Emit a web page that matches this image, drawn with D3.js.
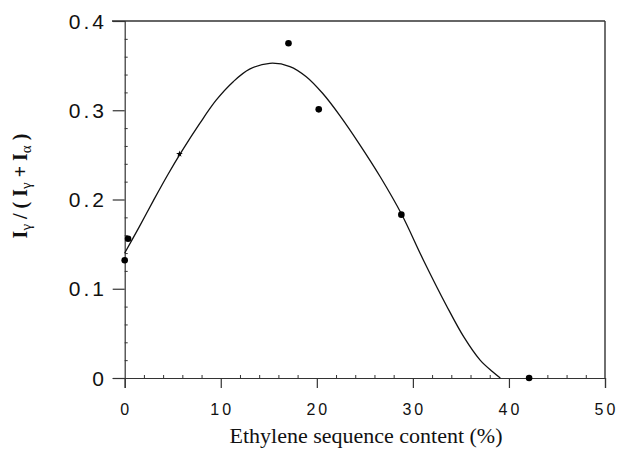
<!DOCTYPE html>
<html><head><meta charset="utf-8">
<script src="https://cdn.jsdelivr.net/npm/d3@7"></script>
<style>body{margin:0;background:#fff}svg{display:block}</style>
</head><body>
<svg id="c" width="621" height="449"></svg>
<script>
// Measured points
const pointX = [0, 0.35, 17.05, 20.2, 28.8, 42.1];
const pointY = [0.132, 0.156, 0.375, 0.301, 0.183, 0.0];
// Odd marker (small star)
const starX = [5.7];
const starY = [0.251];
// Fitted curve
const curveX = [0, 1.5, 3.0, 4.5, 6.0, 7.8, 9.5, 11.3, 13.0, 15.1, 17.2, 18.9, 20.6, 22.4, 24.5, 26.6, 28.8, 31.1, 33.5, 35.3, 37.0, 38.3, 39.1];
const curveY = [0.140, 0.169, 0.199, 0.228, 0.255, 0.285, 0.311, 0.332, 0.346, 0.3526, 0.349, 0.3376, 0.319, 0.294, 0.261, 0.2255, 0.184, 0.132, 0.081, 0.046, 0.020, 0.007, 0.0];
const xTicks = [0, 10, 20, 30, 40, 50];
const yTicks = [0, 0.1, 0.2, 0.3, 0.4];
const yTickLabels = ["0", "0.1", "0.2", "0.3", "0.4"];

const svg = d3.select("#c");
const x = d3.scaleLinear().domain([0, 50]).range([124.7, 605]);
const y = d3.scaleLinear().domain([0, 0.4]).range([378, 21]);
const axisColor = "#333";

// frame top & right
svg.append("line").attr("x1", 112).attr("x2", x(50)).attr("y1", y(0.4)).attr("y2", y(0.4))
  .attr("stroke", axisColor).attr("stroke-width", 1.4);
svg.append("line").attr("x1", x(50)).attr("x2", x(50)).attr("y1", y(0.4)).attr("y2", y(0))
  .attr("stroke", axisColor).attr("stroke-width", 1.4);

// x axis
const xAxis = d3.axisBottom(x).tickValues(xTicks).tickSize(10).tickFormat("");
const gx = svg.append("g").attr("transform", `translate(0,${y(0)})`).call(xAxis);
gx.select(".domain").attr("stroke", axisColor).attr("stroke-width", 1.2);
gx.selectAll(".tick line").attr("stroke", axisColor).attr("stroke-width", 1.2);
const xMinor = d3.range(2, 50, 2).filter(v => v % 10 !== 0);
const gxm = svg.append("g").attr("transform", `translate(0,${y(0)})`)
  .call(d3.axisTop(x).tickValues(xMinor).tickSize(3).tickFormat(""));
gxm.select(".domain").remove();
gxm.selectAll(".tick line").attr("stroke", axisColor);
svg.append("g").selectAll("text").data(xTicks).join("text")
  .attr("x", d => x(d) + 1.5).attr("y", 415)
  .attr("text-anchor", "middle")
  .attr("font-family", "Liberation Sans, Arial, sans-serif").attr("font-size", 16)
  .attr("letter-spacing", 3)
  .attr("fill", "#111").text(d => d);

// y axis
const yAxis = d3.axisLeft(y).tickValues(yTicks).tickSize(12).tickFormat("");
const gy = svg.append("g").attr("transform", `translate(${x(0)},0)`).call(yAxis);
gy.select(".domain").attr("stroke", axisColor).attr("stroke-width", 1.2);
gy.selectAll(".tick line").attr("stroke", axisColor).attr("stroke-width", 1.2);
const yMinor = d3.range(0.02, 0.4, 0.02).filter(v => Math.abs(v * 10 - Math.round(v * 10)) > 1e-6);
const gym = svg.append("g").attr("transform", `translate(${x(0)},0)`)
  .call(d3.axisRight(y).tickValues(yMinor).tickSize(3).tickFormat(""));
gym.select(".domain").remove();
gym.selectAll(".tick line").attr("stroke", axisColor);
svg.append("g").selectAll("text").data(yTicks).join("text")
  .attr("x", 107).attr("y", d => y(d) + 7.5)
  .attr("text-anchor", "end")
  .attr("font-family", "Liberation Sans, Arial, sans-serif").attr("font-size", 21)
  .attr("letter-spacing", 3)
  .attr("fill", "#111").text((d, i) => yTickLabels[i]);

// curve
const line = d3.line().x(d => x(d[0])).y(d => y(d[1])).curve(d3.curveCatmullRom.alpha(0.5));
svg.append("path").datum(curveX.map((v, i) => [v, curveY[i]]))
  .attr("d", line).attr("fill", "none").attr("stroke", "#111").attr("stroke-width", 1.3);

// points
svg.append("g").selectAll("circle").data(pointX.map((v, i) => [v, pointY[i]])).join("circle")
  .attr("cx", d => x(d[0])).attr("cy", d => y(d[1])).attr("r", 3.3).attr("fill", "#000");
svg.append("g").selectAll("path").data(starX.map((v, i) => [v, starY[i]])).join("path")
  .attr("transform", d => `translate(${x(d[0])},${y(d[1])})`)
  .attr("d", d3.symbol(d3.symbolStar, 14)).attr("fill", "#000");

// x title
svg.append("text").attr("x", 366).attr("y", 443).attr("text-anchor", "middle")
  .attr("font-family", "Liberation Serif, Times New Roman, serif").attr("font-size", 22)
  .attr("fill", "#111").text("Ethylene sequence content (%)");

// y title
const yt = svg.append("text").attr("transform", "translate(27,186) rotate(-90)")
  .attr("text-anchor", "middle")
  .attr("font-family", "Liberation Serif, Times New Roman, serif").attr("font-size", 20)
  .attr("font-weight", "bold").attr("fill", "#111");
const parts = [["I", 0], ["γ", 1], [" / ( I", 0], ["γ", 1], [" + I", 0], ["α", 1], [" )", 0]];
let prevSub = 0;
parts.forEach(([t, s]) => {
  const dy = s && !prevSub ? 4 : (!s && prevSub ? -4 : 0);
  yt.append("tspan").attr("dy", dy).attr("font-size", s ? 15 : 20)
    .attr("font-weight", s ? "normal" : "bold").text(t);
  prevSub = s;
});
</script>
</body></html>
